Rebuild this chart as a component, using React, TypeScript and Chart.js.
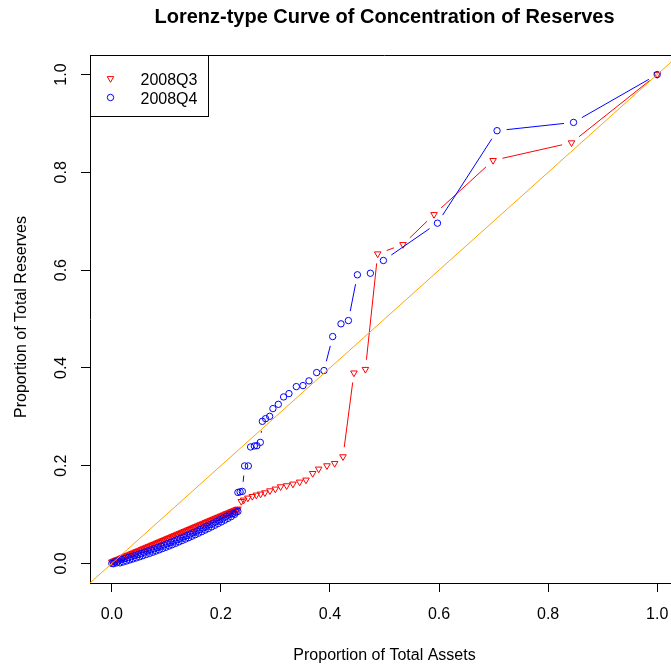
import React, { useEffect, useRef } from "react";
import { Chart, registerables } from "chart.js";

Chart.register(...registerables);

const chartTitle = "Lorenz-type Curve of Concentration of Reserves";
const xAxisTitle = "Proportion of Total Assets";
const yAxisTitle = "Proportion of Total Reserves";
const tickValues = [0, 0.2, 0.4, 0.6, 0.8, 1.0];
const seriesNames = ["2008Q3", "2008Q4"];
const seriesColors = ["#FF0000", "#0000FF"];
const refLineColor = "#FFA500";

// 2008Q3 cumulative shares (assets, reserves)
const q3X = [
  0, 0.002, 0.004, 0.006, 0.008, 0.010, 0.013, 0.016, 0.019, 0.022,
  0.025, 0.028, 0.031, 0.034, 0.037, 0.040, 0.043, 0.046, 0.049, 0.052,
  0.055, 0.058, 0.061, 0.064, 0.067, 0.070, 0.073, 0.076, 0.079, 0.082,
  0.085, 0.088, 0.091, 0.094, 0.097, 0.100, 0.103, 0.106, 0.109, 0.112,
  0.115, 0.118, 0.121, 0.124, 0.127, 0.130, 0.133, 0.136, 0.139, 0.142,
  0.145, 0.148, 0.151, 0.154, 0.157, 0.160, 0.163, 0.166, 0.169, 0.172,
  0.175, 0.178, 0.181, 0.184, 0.187, 0.190, 0.193, 0.196, 0.199, 0.202,
  0.205, 0.208, 0.211, 0.214, 0.217, 0.220, 0.223, 0.226, 0.229, 0.2312,
  0.2374, 0.2417, 0.2495, 0.2576, 0.2650, 0.2728, 0.2807, 0.2899, 0.2998, 0.3095,
  0.3206, 0.3321, 0.3444, 0.3560, 0.3683, 0.3793, 0.3945, 0.4086, 0.4239, 0.4440,
  0.4650, 0.4875, 0.5339, 0.5908, 0.6991, 0.8429, 1.0,
];
const q3Y = [
  0.0030, 0.0039, 0.0049, 0.0058, 0.0068, 0.0077, 0.0091, 0.0105, 0.0119, 0.0133,
  0.0148, 0.0162, 0.0176, 0.0190, 0.0204, 0.0218, 0.0232, 0.0246, 0.0260, 0.0274,
  0.0289, 0.0303, 0.0317, 0.0331, 0.0345, 0.0359, 0.0373, 0.0387, 0.0401, 0.0415,
  0.0430, 0.0444, 0.0458, 0.0472, 0.0486, 0.0500, 0.0514, 0.0528, 0.0542, 0.0556,
  0.0571, 0.0585, 0.0599, 0.0613, 0.0627, 0.0641, 0.0655, 0.0669, 0.0683, 0.0697,
  0.0712, 0.0726, 0.0740, 0.0754, 0.0768, 0.0782, 0.0796, 0.0810, 0.0824, 0.0838,
  0.0853, 0.0867, 0.0881, 0.0895, 0.0909, 0.0923, 0.0937, 0.0951, 0.0965, 0.0979,
  0.0994, 0.1008, 0.1022, 0.1036, 0.1050, 0.1064, 0.1078, 0.1092, 0.1106, 0.1114,
  0.1269, 0.1298, 0.1339, 0.1372, 0.1400, 0.1421, 0.1447, 0.1488, 0.1523, 0.1570,
  0.1591, 0.1625, 0.1666, 0.1707, 0.1842, 0.1932, 0.2000, 0.2047, 0.2184, 0.3898,
  0.3971, 0.6334, 0.6524, 0.7138, 0.8244, 0.8606, 1.0,
];

// 2008Q4 cumulative shares (assets, reserves)
const q4X = [
  0, 0.003, 0.006, 0.009, 0.012, 0.015, 0.018, 0.021, 0.024, 0.027,
  0.030, 0.033, 0.036, 0.039, 0.042, 0.045, 0.048, 0.051, 0.054, 0.057,
  0.060, 0.063, 0.066, 0.069, 0.072, 0.075, 0.078, 0.081, 0.084, 0.087,
  0.090, 0.093, 0.096, 0.099, 0.102, 0.105, 0.108, 0.111, 0.114, 0.117,
  0.120, 0.123, 0.126, 0.129, 0.132, 0.135, 0.138, 0.141, 0.144, 0.147,
  0.150, 0.153, 0.156, 0.159, 0.162, 0.165, 0.168, 0.171, 0.174, 0.177,
  0.180, 0.183, 0.186, 0.189, 0.192, 0.195, 0.198, 0.201, 0.204, 0.207,
  0.210, 0.213, 0.216, 0.219, 0.222, 0.225, 0.228, 0.2312,
  0.2312, 0.2352, 0.2393, 0.2435, 0.2503, 0.2545, 0.2613, 0.2661, 0.2723, 0.2760,
  0.2820, 0.2894, 0.2954, 0.3053, 0.3150, 0.3248, 0.3383, 0.3505, 0.3615, 0.3756,
  0.3890, 0.4050, 0.4202, 0.4338, 0.4503, 0.4741, 0.4980, 0.5971, 0.7064, 0.8466,
  1.0,
];
const q4Y = [
  0.0000, -0.0006, 0.0033, 0.0013, 0.0052, 0.0012, 0.0081, 0.0031, 0.0101, 0.0051,
  0.0121, 0.0072, 0.0142, 0.0093, 0.0163, 0.0114, 0.0185, 0.0136, 0.0207, 0.0159,
  0.0230, 0.0182, 0.0254, 0.0205, 0.0277, 0.0229, 0.0302, 0.0254, 0.0326, 0.0279,
  0.0352, 0.0305, 0.0378, 0.0331, 0.0404, 0.0357, 0.0431, 0.0384, 0.0458, 0.0412,
  0.0486, 0.0440, 0.0514, 0.0469, 0.0543, 0.0498, 0.0572, 0.0527, 0.0602, 0.0557,
  0.0633, 0.0588, 0.0663, 0.0619, 0.0695, 0.0651, 0.0727, 0.0683, 0.0759, 0.0715,
  0.0792, 0.0748, 0.0825, 0.0782, 0.0859, 0.0816, 0.0893, 0.0851, 0.0928, 0.0886,
  0.0964, 0.0922, 0.1000, 0.0958, 0.1021, 0.1004, 0.1050, 0.1064,
  0.1453, 0.1464, 0.1474, 0.1994, 0.1994, 0.2383, 0.2403, 0.2409, 0.2477, 0.2907,
  0.2962, 0.3009, 0.3167, 0.3255, 0.3406, 0.3474, 0.3617, 0.3638, 0.3734, 0.3904,
  0.3945, 0.4641, 0.4901, 0.4968, 0.5904, 0.5936, 0.6197, 0.6960, 0.8852, 0.9021,
  1.0,
];

// 45-degree reference line (y = x) across the axis range
const refLineX = [-0.04, 1.04];
const refLineY = [-0.04, 1.04];

const axisMin = -0.04;
const axisMax = 1.04;

const CANVAS_W = 700;
const CANVAS_H = 667;
const FONT = "'Liberation Sans', Arial, Helvetica, sans-serif";

const zip = (xs: number[], ys: number[]) => xs.map((x, i) => ({ x, y: ys[i] }));

// R type="b": line segments with gaps around each point
const typeBPlugin = {
  id: "typeB",
  beforeDatasetDraw(chart: any, args: any) {
    const ds = chart.data.datasets[args.index];
    if (!ds.typeB) return;
    const pts = args.meta.data;
    const ctx = chart.ctx;
    const gap = 9.6;
    ctx.save();
    ctx.strokeStyle = ds.borderColor;
    ctx.lineWidth = 1;
    ctx.beginPath();
    for (let i = 0; i < pts.length - 1; i++) {
      const a = pts[i];
      const b = pts[i + 1];
      const dx = b.x - a.x;
      const dy = b.y - a.y;
      const d = Math.hypot(dx, dy);
      if (d <= 2 * gap) continue;
      const ux = dx / d;
      const uy = dy / d;
      ctx.moveTo(a.x + ux * gap, a.y + uy * gap);
      ctx.lineTo(b.x - ux * gap, b.y - uy * gap);
    }
    ctx.stroke();
    ctx.restore();
  },
};

const decorPlugin = {
  id: "decor",
  afterDraw(chart: any) {
    const ctx = chart.ctx;
    const a = chart.chartArea;
    const cx = (a.left + a.right) / 2;
    ctx.save();
    // box (top and right sides)
    ctx.strokeStyle = "#000";
    ctx.lineWidth = 1;
    ctx.beginPath();
    ctx.moveTo(a.left, a.top + 0.5);
    ctx.lineTo(a.right, a.top + 0.5);
    ctx.moveTo(a.right - 0.5, a.top);
    ctx.lineTo(a.right - 0.5, a.bottom);
    ctx.stroke();

    // title
    ctx.fillStyle = "#000";
    ctx.textAlign = "center";
    ctx.textBaseline = "middle";
    ctx.font = `bold 20px ${FONT}`;
    ctx.fillText(chartTitle, cx, 17);

    // axis titles
    ctx.font = `16px ${FONT}`;
    ctx.fillText(xAxisTitle, cx, 656);
    ctx.save();
    ctx.translate(22, 317);
    ctx.rotate(-Math.PI / 2);
    ctx.fillText(yAxisTitle, 0, 0);
    ctx.restore();

    // legend
    const lx = a.left + 0.5;
    const ly = a.top + 0.5;
    const lw = 118;
    const lh = 61;
    ctx.fillStyle = "#fff";
    ctx.fillRect(lx, ly, lw, lh);
    ctx.strokeStyle = "#000";
    ctx.strokeRect(lx, ly, lw, lh);
    const sx = lx + 20;
    const rowsY = [ly + 23, ly + 42];
    // triangle (down)
    ctx.strokeStyle = seriesColors[0];
    ctx.beginPath();
    const r = 3.8;
    ctx.moveTo(sx, rowsY[0] + r);
    ctx.lineTo(sx - r * 0.866, rowsY[0] - r / 2);
    ctx.lineTo(sx + r * 0.866, rowsY[0] - r / 2);
    ctx.closePath();
    ctx.stroke();
    // circle
    ctx.strokeStyle = seriesColors[1];
    ctx.beginPath();
    ctx.arc(sx, rowsY[1], 3.2, 0, Math.PI * 2);
    ctx.stroke();
    ctx.fillStyle = "#000";
    ctx.textAlign = "left";
    ctx.font = `16px ${FONT}`;
    ctx.fillText(seriesNames[0], lx + 50, rowsY[0] + 2);
    ctx.fillText(seriesNames[1], lx + 50, rowsY[1] + 2);
    ctx.restore();
  },
};

export default function App() {
  const ref = useRef<HTMLCanvasElement | null>(null);

  useEffect(() => {
    if (!ref.current) return;
    const chart = new Chart(ref.current, {
      type: "scatter",
      data: {
        datasets: [
          {
            label: "y = x",
            data: zip(refLineX, refLineY),
            showLine: true,
            borderColor: refLineColor,
            borderWidth: 1,
            pointRadius: 0,
          } as any,
          {
            label: seriesNames[1],
            data: zip(q4X, q4Y),
            showLine: false,
            typeB: true,
            borderColor: seriesColors[1],
            pointStyle: "circle",
            pointRadius: 3.2,
            pointBorderWidth: 1,
            pointBorderColor: seriesColors[1],
            pointBackgroundColor: "rgba(0,0,0,0)",
          } as any,
          {
            label: seriesNames[0],
            data: zip(q3X, q3Y),
            showLine: false,
            typeB: true,
            borderColor: seriesColors[0],
            pointStyle: "triangle",
            rotation: 180,
            pointRadius: 3.8,
            pointBorderWidth: 1,
            pointBorderColor: seriesColors[0],
            pointBackgroundColor: "rgba(0,0,0,0)",
          } as any,
        ],
      },
      options: {
        responsive: false,
        animation: false,
        devicePixelRatio: 1,
        events: [],
        layout: { padding: { left: 0, right: CANVAS_W - 679, top: 55, bottom: 0 } },
        plugins: {
          legend: { display: false },
          title: { display: false },
          tooltip: { enabled: false },
        },
        scales: {
          x: {
            type: "linear",
            min: axisMin,
            max: axisMax,
            afterFit: (s: any) => {
              s.height = 84;
            },
            afterBuildTicks: (s: any) => {
              s.ticks = tickValues.map((v) => ({ value: v }));
            },
            grid: {
              drawOnChartArea: false,
              drawTicks: true,
              tickLength: 9,
              color: "#000",
              lineWidth: 1,
            },
            border: { display: true, color: "#000", width: 1 },
            ticks: {
              color: "#000",
              font: { family: FONT, size: 16 },
              padding: 13,
              maxRotation: 0,
              minRotation: 0,
              callback: (v: any) => Number(v).toFixed(1),
            },
          },
          y: {
            type: "linear",
            min: axisMin,
            max: axisMax,
            afterFit: (s: any) => {
              s.width = 90;
            },
            afterBuildTicks: (s: any) => {
              s.ticks = tickValues.map((v) => ({ value: v }));
            },
            grid: {
              drawOnChartArea: false,
              drawTicks: true,
              tickLength: 9,
              color: "#000",
              lineWidth: 1,
            },
            border: { display: true, color: "#000", width: 1 },
            ticks: {
              color: "#000",
              font: { family: FONT, size: 16 },
              padding: 8,
              minRotation: 90,
              maxRotation: 90,
              crossAlign: "center",
              callback: (v: any) => Number(v).toFixed(1),
            },
          },
        },
      },
      plugins: [typeBPlugin, decorPlugin],
    });
    return () => chart.destroy();
  }, []);

  return (
    <div
      style={{
        position: "fixed",
        left: 0,
        top: 0,
        width: 671,
        height: 667,
        overflow: "hidden",
        background: "#fff",
      }}
    >
      <canvas ref={ref} width={CANVAS_W} height={CANVAS_H} style={{ display: "block" }} />
    </div>
  );
}
